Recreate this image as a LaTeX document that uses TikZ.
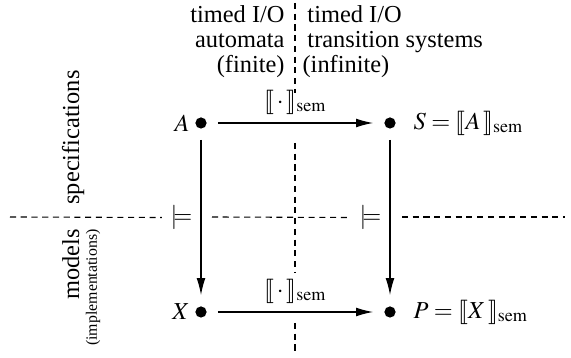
\documentclass[tikz,border=0pt]{standalone}
\usepackage{mathptmx}
\usepackage{stmaryrd}
\usepackage{fontspec}
\setmainfont{Liberation Serif}
\usetikzlibrary{arrows.meta,positioning}

\newcommand{\semof}[1]{\llbracket #1\rrbracket_{\mathrm{sem}}}

\begin{document}
\begin{tikzpicture}[x=0.41pt,y=-0.41pt,
  dot/.style={circle,fill,inner sep=0pt,minimum size=4.6pt},
  arr/.style={-{Latex[length=7pt,width=3.6pt]},line width=0.5pt,shorten <=4.4pt,shorten >=4.4pt},
  sep/.style={dash pattern=on 2.5pt off 1.9pt,line width=0.45pt}]
\useasboundingbox (0,0) rectangle (571,358);
% states
\node[dot] (A) at (201,123) {};
\node[dot] (S) at (390,123) {};
\node[dot] (X) at (201,312) {};
\node[dot] (P) at (390,312) {};
\node[left=1pt of A, inner sep=1pt] (Alab) {$A$};
\node[left=1pt of X, inner sep=1pt] (Xlab) {$X$};
\node[right=6pt of S, inner sep=1pt] (Slab) {$S=\semof{A\,}$};
\node[right=6pt of P, inner sep=1pt] (Plab) {$P=\semof{X\,}$};
% semantics and satisfaction
\draw[arr] (A) -- node[above] (semA) {$\semof{\,\cdot\,}$} (S);
\draw[arr] (X) -- node[above] (semX) {$\semof{\,\cdot\,}$} (P);
\draw[arr] (A) -- node[left] (satA) {$\models$} (X);
\draw[arr] (S) -- node[left] (satS) {$\models$} (P);
% separators
\draw[sep] (10,217) -- (satA.west);
\draw[sep] (212,217) -- (satS.west);
\draw[sep] (402,217) -- (565,217);
\draw[sep] (295,3) -- (295,93);
\draw[sep] (295,143) -- (295,273);
\draw[sep] (295,323) -- (295,355);
% headings
\node[anchor=north east, align=right, inner sep=0, font=\fontsize{10}{10.25}\selectfont] (fin) at (285,5)
  {timed I/O\\automata\\(finite)};
\node[anchor=north west, align=left, inner sep=0, font=\fontsize{10}{10.25}\selectfont] (inf) at (307,5)
  {timed I/O\\transition systems\\\hspace*{-2pt}(infinite)};
\node[rotate=90, anchor=base west, inner sep=0] (spec) at (79,205) {specifications};
\node[rotate=90, anchor=base east, inner sep=0] (mod) at (79,229) {models};
\node[rotate=90, anchor=base east, inner sep=0, font=\fontsize{6.5}{7}\selectfont] (impl) at (97,229) {(implementations)};
\end{tikzpicture}
\end{document}
